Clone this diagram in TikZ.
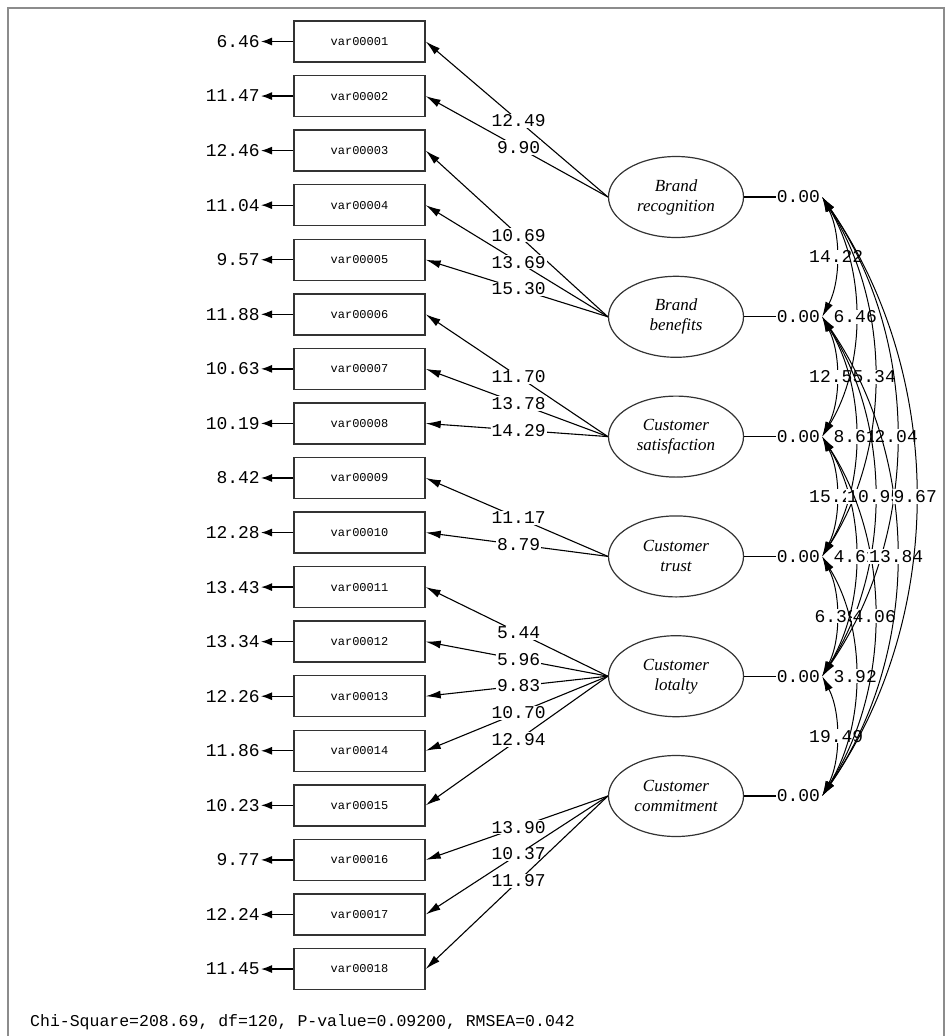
\documentclass[tikz,border=0pt]{standalone}
\usepackage{fontspec}
\setmainfont{Liberation Serif}
\setmonofont{Liberation Mono}
\usetikzlibrary{arrows.meta,shapes.geometric}
\newcommand{\semnum}{\ttfamily\fontsize{18}{20}\selectfont}
\newcommand{\semvar}{\ttfamily\fontsize{12}{14}\selectfont}
\newcommand{\semlat}{\itshape\fontsize{17}{20}\selectfont}
\tikzset{
  obs/.style={draw=black!80,line width=1.4pt,minimum width=131pt,minimum height=41pt,inner sep=0pt,font=\semvar},
  lat/.style={ellipse,draw=black!80,line width=1.2pt,minimum width=135pt,minimum height=81pt,inner sep=0pt,align=center,font=\semlat},
  numlab/.style={font=\semnum,inner sep=1pt},
  loadlab/.style={numlab,fill=white},
  load/.style={-{Latex[length=15pt,width=8pt]},line width=1.1pt},
  err/.style={-{Latex[length=11pt,width=8pt]},line width=1.3pt},
  cov/.style={{Latex[length=15pt,width=8pt]}-{Latex[length=15pt,width=8pt]},line width=1pt},
  boxframe/.style={draw=black!45,line width=1.4pt}
}

\begin{document}
\begin{tikzpicture}[x=1pt,y=-1pt]
  \useasboundingbox (0,0) rectangle (951,1036);
  \draw[boxframe] (8,1036) -- (8,8) -- (944,8) -- (944,1036);

  % observed variables and error variances
  \foreach \k/\nm/\ev in {1/var00001/6.46,2/var00002/11.47,3/var00003/12.46,4/var00004/11.04,
      5/var00005/9.57,6/var00006/11.88,7/var00007/10.63,8/var00008/10.19,9/var00009/8.42,
      10/var00010/12.28,11/var00011/13.43,12/var00012/13.34,13/var00013/12.26,14/var00014/11.86,
      15/var00015/10.23,16/var00016/9.77,17/var00017/12.24,18/var00018/11.45}{
    \pgfmathsetmacro\yy{41.5+54.56*(\k-1)}
    \node[obs] (m\k) at (359.5,\yy) {\nm};
    \node[numlab,anchor=east] (e\k) at (261,\yy) {\ev};
    \draw[err] (m\k.west) -- (e\k.east);
  }

  % latent variables
  \node[lat] (lv1) at (676,197) {Brand\\recognition};
  \node[lat] (lv2) at (676,316.8) {Brand\\benefits};
  \node[lat] (lv3) at (676,436.6) {Customer\\satisfaction};
  \node[lat] (lv4) at (676,556.4) {Customer\\trust};
  \node[lat] (lv5) at (676,676.2) {Customer\\lotalty};
  \node[lat] (lv6) at (676,796) {Customer\\commitment};

  \foreach \i in {1,...,6}{
    \node[numlab,anchor=west] (v\i) at ([xshift=31.5pt]lv\i.east) {0.00};
    \draw[line width=1.1pt] (lv\i.east) -- (v\i.west);
    \coordinate (a\i) at ([xshift=1pt]v\i.east);
  }

  % loadings
  \foreach \l/\b/\lab in {1/1/12.49,1/2/9.90,2/3/10.69,2/4/13.69,2/5/15.30,3/6/11.70,3/7/13.78,
      3/8/14.29,4/9/11.17,4/10/8.79,5/11/5.44,5/12/5.96,5/13/9.83,5/14/10.70,5/15/12.94,
      6/16/13.90,6/17/10.37,6/18/11.97}
    \draw[load] (lv\l.west) -- node[loadlab,pos=0.49]{\lab} (m\b.east);

  % covariances, inner arcs first
  \foreach \i/\j/\h/\lab in {1/2/14/14.22,2/3/14/12.55,3/4/14/15.20,4/5/14/6.39,5/6/14/19.49,
      1/3/33/6.46,2/4/33/8.61,3/5/33/4.61,4/6/33/3.92,
      1/4/52/5.34,2/5/52/10.95,3/6/52/4.06,
      1/5/74/2.04,2/6/74/13.84,
      1/6/93/9.67}{
    \pgfmathsetmacro\cx{\h*4/3}
    \pgfmathsetmacro\cy{36*(\j-\i)}
    \draw[cov] (a\i) .. controls +(\cx,\cy) and +(\cx,-\cy) .. node[loadlab,midway]{\lab} (a\j);
  }

  \node[font=\ttfamily\fontsize{16.5}{18}\selectfont,anchor=west,inner sep=0pt] (fitline) at (30,1022)
    {Chi-Square=208.69, df=120, P-value=0.09200, RMSEA=0.042};
\end{tikzpicture}
\end{document}
